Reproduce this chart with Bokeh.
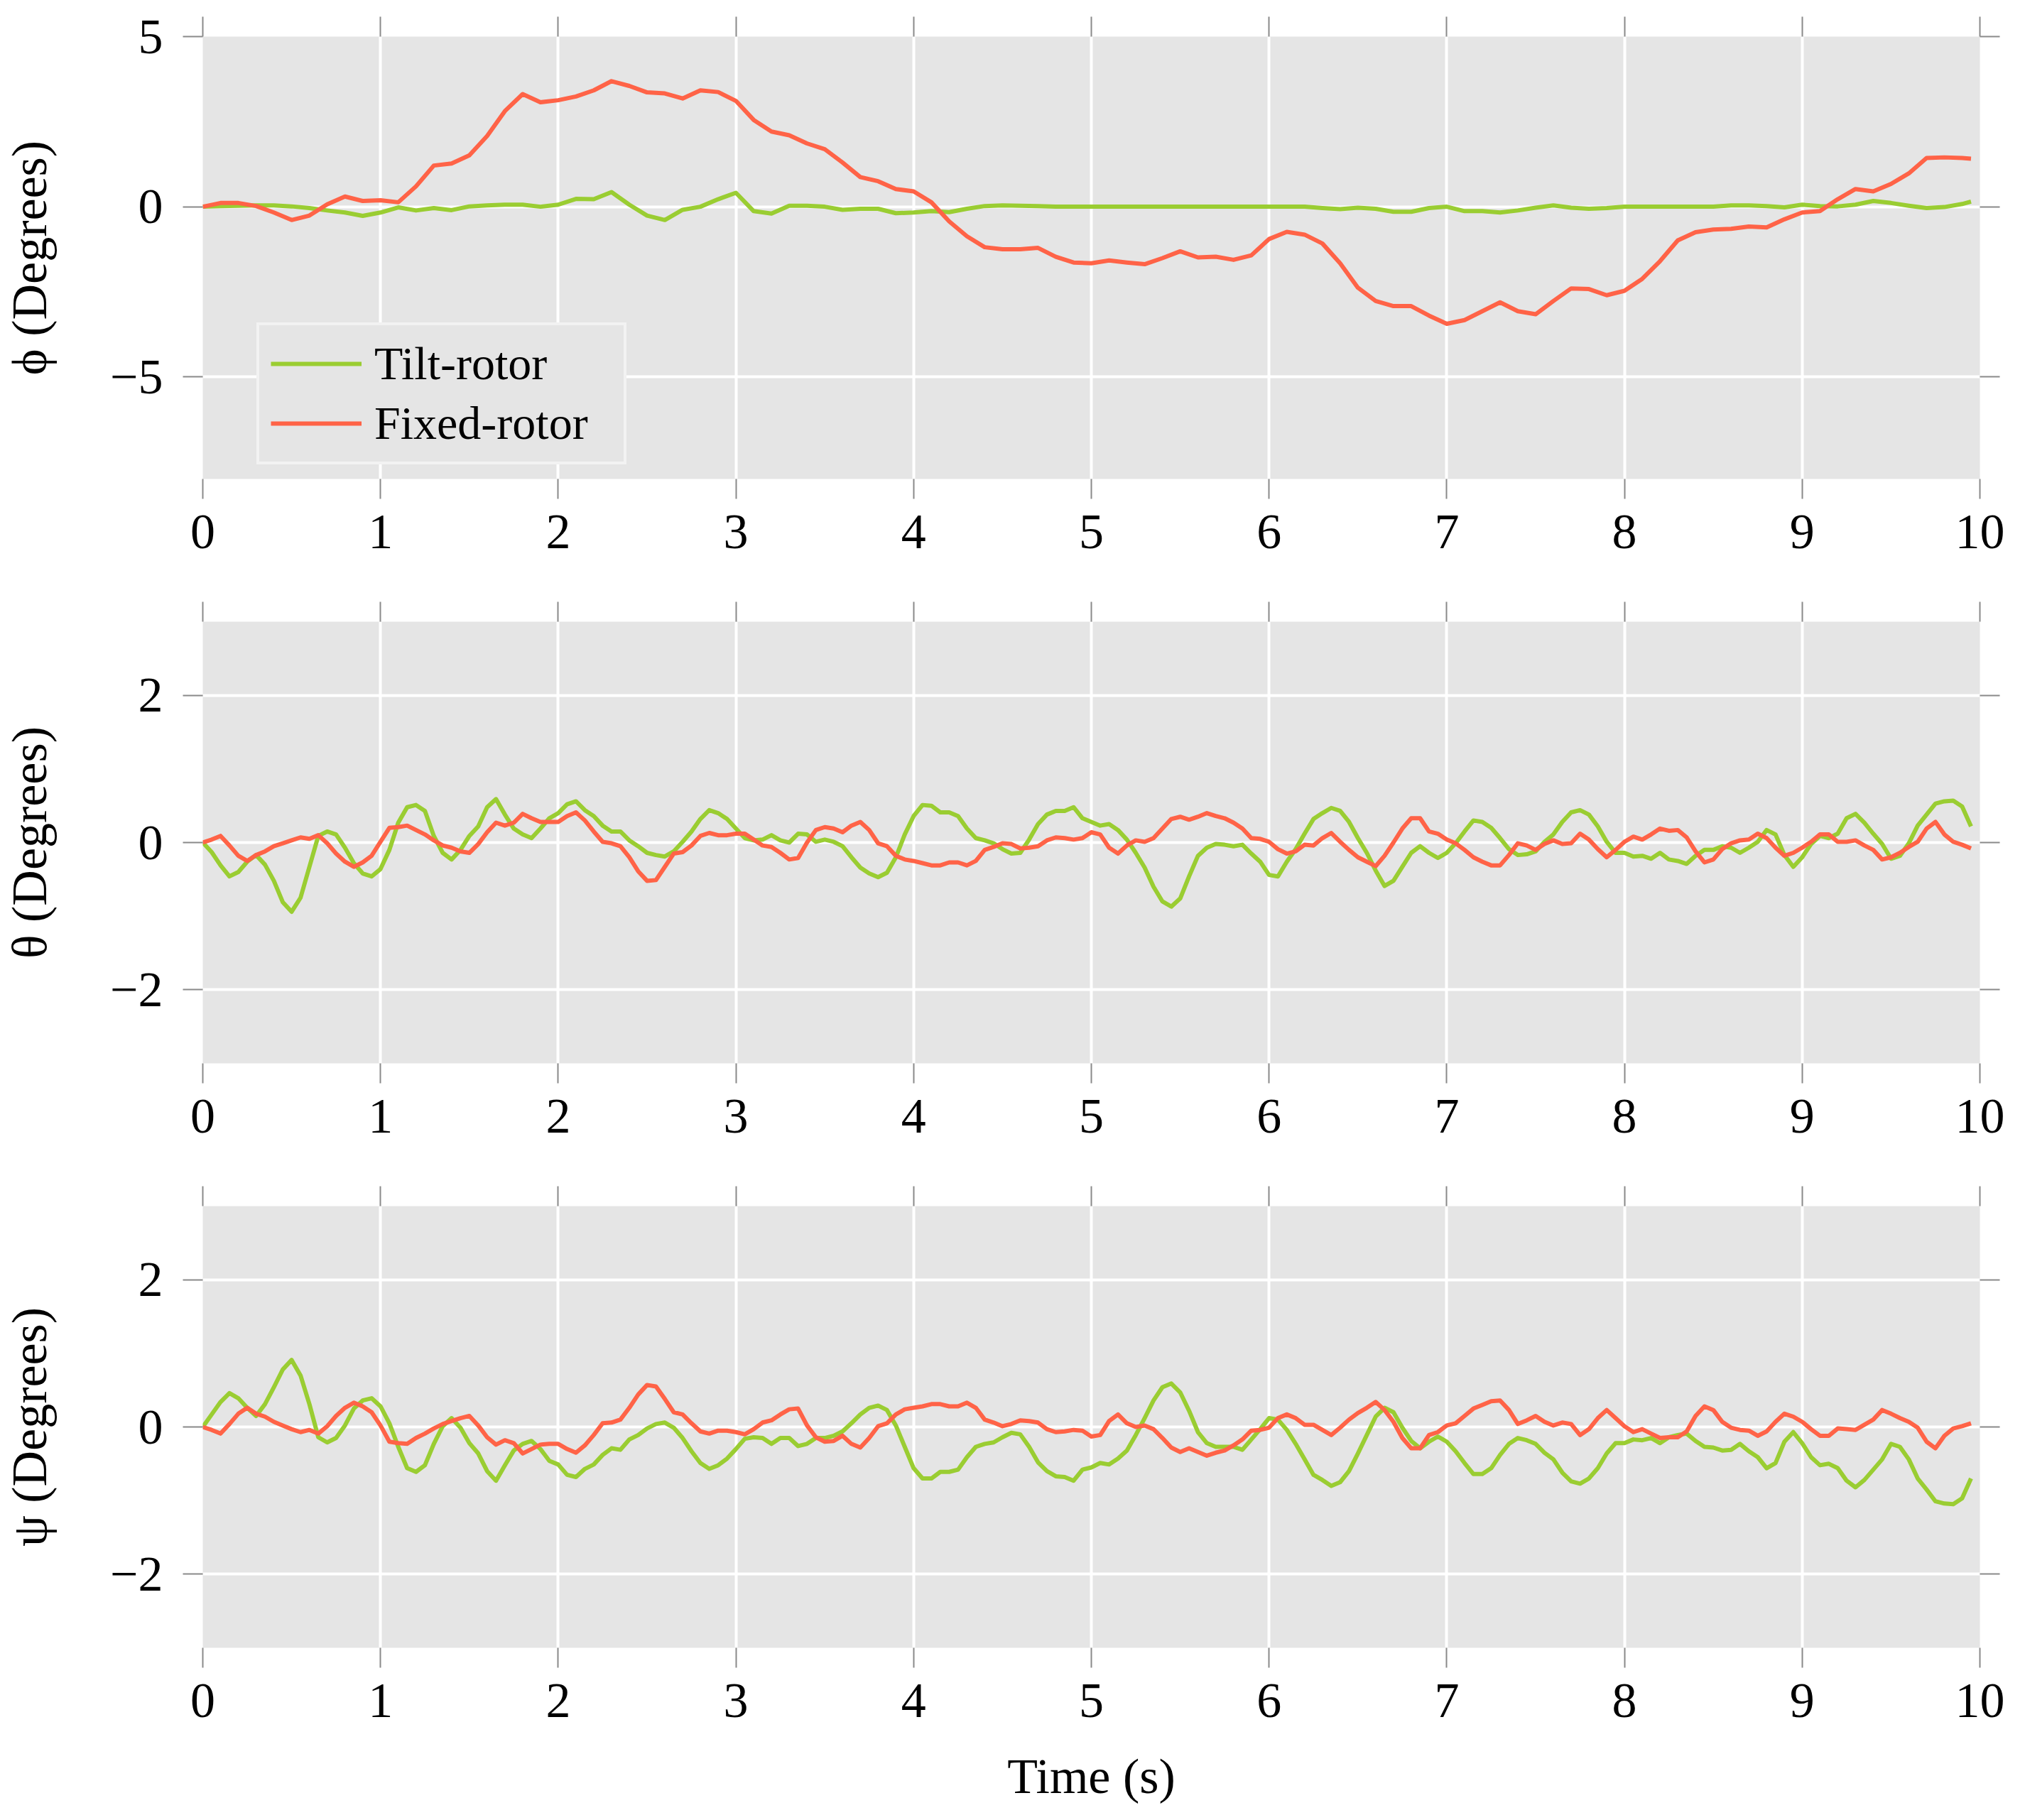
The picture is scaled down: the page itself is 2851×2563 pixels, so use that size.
import numpy as np
from bokeh.plotting import figure
from bokeh.models import (Range1d, FixedTicker, LinearAxis, Legend, LegendItem,
                          CustomJSTickFormatter)
from bokeh.layouts import column
from bokeh.embed import file_html
from bokeh.resources import INLINE

# ---------------- data ----------------
t_coarse = np.append(np.round(np.arange(0, 100) * 0.1, 2), 9.95)   # top panel sampling
t_fine = np.round(np.arange(0, 200) * 0.05, 2)                      # middle/bottom sampling

phi_tilt = [
    0.00, 0.02, 0.03, 0.04, 0.04, 0.01, -0.04, -0.11, -0.17, -0.27,
    -0.17, -0.02, -0.11, -0.04, -0.10, 0.01, 0.04, 0.06, 0.06, 0.00,
    0.06, 0.23, 0.22, 0.43, 0.06, -0.26, -0.39, -0.09, 0.00, 0.22,
    0.41, -0.13, -0.20, 0.03, 0.03, 0.00, -0.09, -0.06, -0.06, -0.19,
    -0.17, -0.13, -0.16, -0.06, 0.02, 0.04, 0.03, 0.02, 0.00, 0.00,
    0.00, 0.00, 0.00, 0.00, 0.00, 0.00, 0.00, 0.00, 0.00, 0.00,
    0.00, 0.00, 0.00, -0.04, -0.07, -0.03, -0.06, -0.15, -0.15, -0.04,
    0.00, -0.13, -0.13, -0.17, -0.11, -0.03, 0.04, -0.03, -0.06, -0.04,
    0.00, 0.00, 0.00, 0.00, 0.00, 0.00, 0.04, 0.04, 0.02, -0.02,
    0.06, 0.02, 0.01, 0.06, 0.17, 0.11, 0.03, -0.04, -0.01, 0.08,
    0.15,
]
phi_fixed = [
    0.00, 0.11, 0.11, 0.02, -0.17, -0.39, -0.26, 0.07, 0.30, 0.17,
    0.19, 0.13, 0.60, 1.21, 1.27, 1.51, 2.08, 2.81, 3.31, 3.07,
    3.13, 3.24, 3.42, 3.69, 3.55, 3.36, 3.33, 3.18, 3.42, 3.37,
    3.11, 2.55, 2.21, 2.10, 1.86, 1.69, 1.30, 0.87, 0.75, 0.52,
    0.45, 0.13, -0.43, -0.87, -1.19, -1.25, -1.25, -1.21, -1.47, -1.64,
    -1.66, -1.58, -1.64, -1.69, -1.51, -1.31, -1.49, -1.47, -1.56, -1.43,
    -0.95, -0.74, -0.82, -1.08, -1.66, -2.38, -2.77, -2.92, -2.92, -3.20,
    -3.44, -3.33, -3.07, -2.81, -3.07, -3.16, -2.77, -2.40, -2.42, -2.60,
    -2.47, -2.12, -1.60, -0.99, -0.75, -0.67, -0.65, -0.58, -0.61, -0.37,
    -0.17, -0.13, 0.22, 0.52, 0.45, 0.67, 0.98, 1.43, 1.45, 1.43,
    1.41,
]
theta_tilt = [
    0.00, -0.13, -0.31, -0.46, -0.40, -0.26, -0.17, -0.30, -0.52, -0.81, -0.94, -0.75, -0.33, 0.09, 0.15, 0.11, -0.07, -0.28, -0.42, -0.46,
    -0.36, -0.10, 0.27, 0.48, 0.51, 0.43, 0.09, -0.14, -0.23, -0.10, 0.09, 0.22, 0.48, 0.59, 0.38, 0.19, 0.11, 0.06, 0.19, 0.33,
    0.40, 0.52, 0.56, 0.44, 0.36, 0.23, 0.15, 0.15, 0.03, -0.05, -0.14, -0.17, -0.19, -0.12, 0.01, 0.15, 0.32, 0.44, 0.40, 0.32,
    0.19, 0.06, 0.03, 0.04, 0.10, 0.03, 0.00, 0.12, 0.11, 0.01, 0.04, 0.01, -0.05, -0.20, -0.34, -0.42, -0.47, -0.41, -0.20, 0.11,
    0.36, 0.51, 0.50, 0.41, 0.41, 0.36, 0.19, 0.06, 0.03, -0.01, -0.09, -0.15, -0.14, 0.04, 0.25, 0.38, 0.43, 0.43, 0.48, 0.33,
    0.28, 0.23, 0.25, 0.17, 0.04, -0.14, -0.34, -0.60, -0.80, -0.87, -0.76, -0.46, -0.18, -0.07, -0.02, -0.03, -0.05, -0.03, -0.15, -0.26,
    -0.44, -0.46, -0.26, -0.09, 0.12, 0.32, 0.40, 0.47, 0.43, 0.28, 0.06, -0.14, -0.38, -0.59, -0.52, -0.33, -0.14, -0.05, -0.14, -0.21,
    -0.14, -0.01, 0.15, 0.30, 0.28, 0.20, 0.06, -0.09, -0.17, -0.16, -0.12, 0.01, 0.11, 0.28, 0.41, 0.44, 0.38, 0.22, 0.01, -0.14,
    -0.14, -0.19, -0.18, -0.22, -0.14, -0.23, -0.25, -0.29, -0.18, -0.10, -0.10, -0.05, -0.07, -0.14, -0.07, 0.01, 0.17, 0.11, -0.17, -0.33,
    -0.20, -0.02, 0.09, 0.06, 0.12, 0.33, 0.39, 0.27, 0.12, -0.02, -0.22, -0.18, -0.01, 0.23, 0.38, 0.53, 0.56, 0.57, 0.49, 0.22,
]
theta_fixed = [
    0.00, 0.04, 0.09, -0.04, -0.18, -0.25, -0.17, -0.12, -0.05, -0.01, 0.03, 0.07, 0.05, 0.10, -0.01, -0.15, -0.26, -0.33, -0.27, -0.18,
    0.01, 0.20, 0.21, 0.23, 0.17, 0.11, 0.03, -0.04, -0.07, -0.12, -0.14, -0.02, 0.14, 0.27, 0.23, 0.27, 0.39, 0.33, 0.28, 0.28,
    0.28, 0.36, 0.41, 0.30, 0.15, 0.01, -0.01, -0.05, -0.20, -0.39, -0.52, -0.51, -0.33, -0.15, -0.13, -0.04, 0.09, 0.13, 0.10, 0.10,
    0.12, 0.12, 0.04, -0.04, -0.06, -0.14, -0.23, -0.21, 0.00, 0.17, 0.21, 0.19, 0.14, 0.23, 0.28, 0.17, -0.01, -0.05, -0.18, -0.23,
    -0.25, -0.28, -0.31, -0.31, -0.27, -0.27, -0.31, -0.25, -0.10, -0.06, -0.01, -0.02, -0.08, -0.07, -0.05, 0.03, 0.07, 0.06, 0.04, 0.06,
    0.14, 0.11, -0.07, -0.15, -0.04, 0.03, 0.01, 0.06, 0.19, 0.32, 0.35, 0.31, 0.35, 0.40, 0.36, 0.33, 0.27, 0.19, 0.06, 0.05,
    0.01, -0.09, -0.15, -0.12, -0.03, -0.04, 0.06, 0.13, 0.01, -0.10, -0.20, -0.26, -0.32, -0.18, 0.00, 0.19, 0.33, 0.33, 0.15, 0.12,
    0.04, -0.01, -0.10, -0.20, -0.26, -0.31, -0.31, -0.17, -0.01, -0.04, -0.10, -0.02, 0.03, -0.02, -0.01, 0.12, 0.04, -0.09, -0.20, -0.10,
    0.01, 0.08, 0.04, 0.11, 0.19, 0.16, 0.17, 0.07, -0.12, -0.27, -0.23, -0.09, -0.01, 0.03, 0.04, 0.12, 0.06, -0.07, -0.18, -0.14,
    -0.07, 0.01, 0.11, 0.11, 0.01, 0.01, 0.03, -0.04, -0.10, -0.23, -0.20, -0.14, -0.06, 0.01, 0.19, 0.28, 0.11, 0.01, -0.03, -0.08,
]
psi_tilt = [
    0.00, 0.17, 0.34, 0.46, 0.39, 0.26, 0.15, 0.31, 0.54, 0.78, 0.91, 0.70, 0.31, -0.14, -0.21, -0.15, 0.02, 0.25, 0.36, 0.39,
    0.28, 0.05, -0.27, -0.56, -0.61, -0.52, -0.23, 0.01, 0.12, -0.01, -0.22, -0.36, -0.60, -0.73, -0.52, -0.32, -0.23, -0.19, -0.30, -0.46,
    -0.51, -0.65, -0.68, -0.57, -0.51, -0.38, -0.29, -0.31, -0.17, -0.11, -0.02, 0.04, 0.06, -0.01, -0.15, -0.33, -0.49, -0.57, -0.52, -0.43,
    -0.30, -0.16, -0.14, -0.15, -0.23, -0.15, -0.15, -0.26, -0.23, -0.15, -0.15, -0.12, -0.06, 0.05, 0.17, 0.26, 0.29, 0.23, 0.02, -0.27,
    -0.56, -0.70, -0.70, -0.61, -0.61, -0.58, -0.41, -0.27, -0.23, -0.21, -0.14, -0.08, -0.10, -0.27, -0.48, -0.60, -0.67, -0.68, -0.73, -0.58,
    -0.55, -0.49, -0.51, -0.43, -0.32, -0.11, 0.12, 0.36, 0.54, 0.59, 0.47, 0.22, -0.07, -0.22, -0.27, -0.27, -0.27, -0.31, -0.17, -0.03,
    0.12, 0.10, -0.04, -0.23, -0.44, -0.65, -0.72, -0.80, -0.75, -0.60, -0.36, -0.11, 0.14, 0.26, 0.20, -0.01, -0.19, -0.29, -0.20, -0.13,
    -0.20, -0.33, -0.49, -0.64, -0.64, -0.56, -0.38, -0.23, -0.15, -0.18, -0.23, -0.35, -0.44, -0.62, -0.74, -0.77, -0.70, -0.56, -0.36, -0.22,
    -0.22, -0.17, -0.18, -0.15, -0.22, -0.14, -0.11, -0.09, -0.19, -0.27, -0.28, -0.32, -0.31, -0.23, -0.33, -0.41, -0.56, -0.49, -0.20, -0.07,
    -0.22, -0.41, -0.52, -0.50, -0.56, -0.73, -0.82, -0.72, -0.58, -0.44, -0.23, -0.27, -0.44, -0.70, -0.85, -1.01, -1.04, -1.05, -0.97, -0.70,
]
psi_fixed = [
    0.00, -0.04, -0.09, 0.04, 0.18, 0.26, 0.18, 0.14, 0.07, 0.02, -0.03, -0.07, -0.04, -0.09, 0.01, 0.15, 0.26, 0.33, 0.28, 0.20,
    0.02, -0.20, -0.22, -0.23, -0.15, -0.09, -0.02, 0.04, 0.08, 0.12, 0.15, 0.02, -0.14, -0.24, -0.18, -0.22, -0.36, -0.30, -0.24, -0.23,
    -0.23, -0.30, -0.35, -0.25, -0.11, 0.05, 0.06, 0.10, 0.26, 0.44, 0.57, 0.55, 0.38, 0.20, 0.17, 0.05, -0.06, -0.09, -0.05, -0.05,
    -0.07, -0.10, -0.03, 0.06, 0.09, 0.17, 0.24, 0.25, 0.02, -0.14, -0.20, -0.19, -0.12, -0.23, -0.28, -0.15, 0.01, 0.05, 0.17, 0.24,
    0.26, 0.28, 0.31, 0.31, 0.28, 0.28, 0.33, 0.26, 0.10, 0.06, 0.01, 0.04, 0.09, 0.08, 0.06, -0.03, -0.07, -0.06, -0.04, -0.05,
    -0.13, -0.11, 0.08, 0.17, 0.05, 0.00, 0.02, -0.03, -0.15, -0.28, -0.34, -0.29, -0.34, -0.39, -0.35, -0.32, -0.25, -0.17, -0.05, -0.04,
    -0.01, 0.12, 0.17, 0.12, 0.03, 0.03, -0.04, -0.11, -0.01, 0.10, 0.19, 0.26, 0.34, 0.23, 0.07, -0.15, -0.29, -0.29, -0.11, -0.07,
    0.02, 0.05, 0.15, 0.25, 0.30, 0.35, 0.36, 0.23, 0.04, 0.09, 0.15, 0.07, 0.02, 0.06, 0.04, -0.11, -0.03, 0.12, 0.23, 0.12,
    0.01, -0.07, -0.03, -0.09, -0.15, -0.14, -0.14, -0.06, 0.15, 0.28, 0.23, 0.07, -0.01, -0.04, -0.05, -0.12, -0.06, 0.07, 0.18, 0.14,
    0.07, -0.03, -0.12, -0.12, -0.02, -0.03, -0.04, 0.03, 0.10, 0.23, 0.18, 0.12, 0.07, -0.01, -0.20, -0.29, -0.12, -0.02, 0.01, 0.05,
]

series_names = ["Tilt-rotor", "Fixed-rotor"]
x_ticks = list(range(0, 11))
phi_ticks = [-5, 0, 5]
small_ticks = [-2, 0, 2]
y_labels = ["ϕ (Degrees)", "θ (Degrees)", "ψ (Degrees)"]
x_label = "Time (s)"

# ---------------- style ----------------
FONT = "Liberation Serif"
BG = "#e5e5e5"
GREEN = "#9acd32"
RED = "#ff6347"
TICK = "#8a8a8a"
TXT = "black"
W = 2843
FS = "70px"
LW = 6

minus_fmt = "return tick < 0 ? '\u2212' + Math.abs(tick) : String(tick);"


def style_axis(ax, ticks, labelled, standoff):
    ax.ticker = FixedTicker(ticks=ticks)
    ax.axis_line_color = None
    ax.major_tick_line_color = TICK
    ax.major_tick_line_width = 2
    ax.major_tick_out = 28
    ax.major_tick_in = 0
    ax.minor_tick_line_color = None
    ax.major_label_text_font = FONT
    ax.major_label_text_color = TXT
    if labelled:
        ax.formatter = CustomJSTickFormatter(code=minus_fmt)
        ax.major_label_text_font_size = FS
        ax.major_label_standoff = standoff
    else:
        ax.formatter = CustomJSTickFormatter(code="return '';")
        ax.major_label_text_font_size = "0px"
        ax.major_label_standoff = 0


def make_panel(height, top_b, bottom_b, yr, yticks, ylab, xlab, t, g, r):
    p = figure(width=W, height=height, output_backend="svg", toolbar_location=None,
               x_range=Range1d(0, 10), y_range=Range1d(*yr),
               min_border_left=285, min_border_right=56,
               min_border_top=top_b, min_border_bottom=bottom_b,
               background_fill_color=BG, border_fill_color="white",
               outline_line_color=None)
    xb = p.below[0]
    yl = p.left[0]
    style_axis(xb, x_ticks, True, 23)
    style_axis(yl, yticks, True, 28)
    yl.axis_label = ylab
    yl.axis_label_text_font = FONT
    yl.axis_label_text_font_size = FS
    yl.axis_label_text_font_style = "normal"
    yl.axis_label_text_color = TXT
    yl.axis_label_standoff = 72
    if xlab:
        xb.axis_label = xlab
        xb.axis_label_text_font = FONT
        xb.axis_label_text_font_size = FS
        xb.axis_label_text_font_style = "normal"
        xb.axis_label_text_color = TXT
        xb.axis_label_standoff = 42
    xa = LinearAxis()
    style_axis(xa, x_ticks, False, 0)
    p.add_layout(xa, "above")
    yr_ax = LinearAxis()
    style_axis(yr_ax, yticks, False, 0)
    p.add_layout(yr_ax, "right")

    p.xgrid.ticker = FixedTicker(ticks=x_ticks)
    p.ygrid.ticker = FixedTicker(ticks=yticks)
    for gr in (p.xgrid, p.ygrid):
        gr.grid_line_color = "white"
        gr.grid_line_width = 4
        gr.minor_grid_line_color = None

    rg = p.line(t, g, line_color=GREEN, line_width=LW, line_join="round")
    rr = p.line(t, r, line_color=RED, line_width=LW, line_join="round")
    return p, rg, rr


p1, g1, r1 = make_panel(828, 51, 154, (-8, 5), phi_ticks, y_labels[0], None,
                        t_coarse, phi_tilt, phi_fixed)
p2, _, _ = make_panel(823, 47, 154, (-3, 3), small_ticks, y_labels[1], None,
                      t_fine, theta_tilt, theta_fixed)
p3, _, _ = make_panel(911, 47, 242, (-3, 3), small_ticks, y_labels[2], x_label,
                      t_fine, psi_tilt, psi_fixed)

legend = Legend(items=[LegendItem(label=series_names[0], renderers=[g1]),
                       LegendItem(label=series_names[1], renderers=[r1])],
                location=(76, 20), orientation="vertical")
legend.label_text_font = FONT
legend.label_text_font_size = "66px"
legend.label_text_color = TXT
legend.label_standoff = 18
legend.label_width = 335
legend.glyph_width = 128
legend.glyph_height = 40
legend.padding = 16
legend.spacing = 8
legend.margin = 0
legend.border_line_color = "white"
legend.border_line_width = 4
legend.background_fill_color = BG
legend.background_fill_alpha = 1.0
p1.add_layout(legend)

layout = column(p1, p2, p3)
open("out.html", "w").write(file_html(layout, INLINE))
